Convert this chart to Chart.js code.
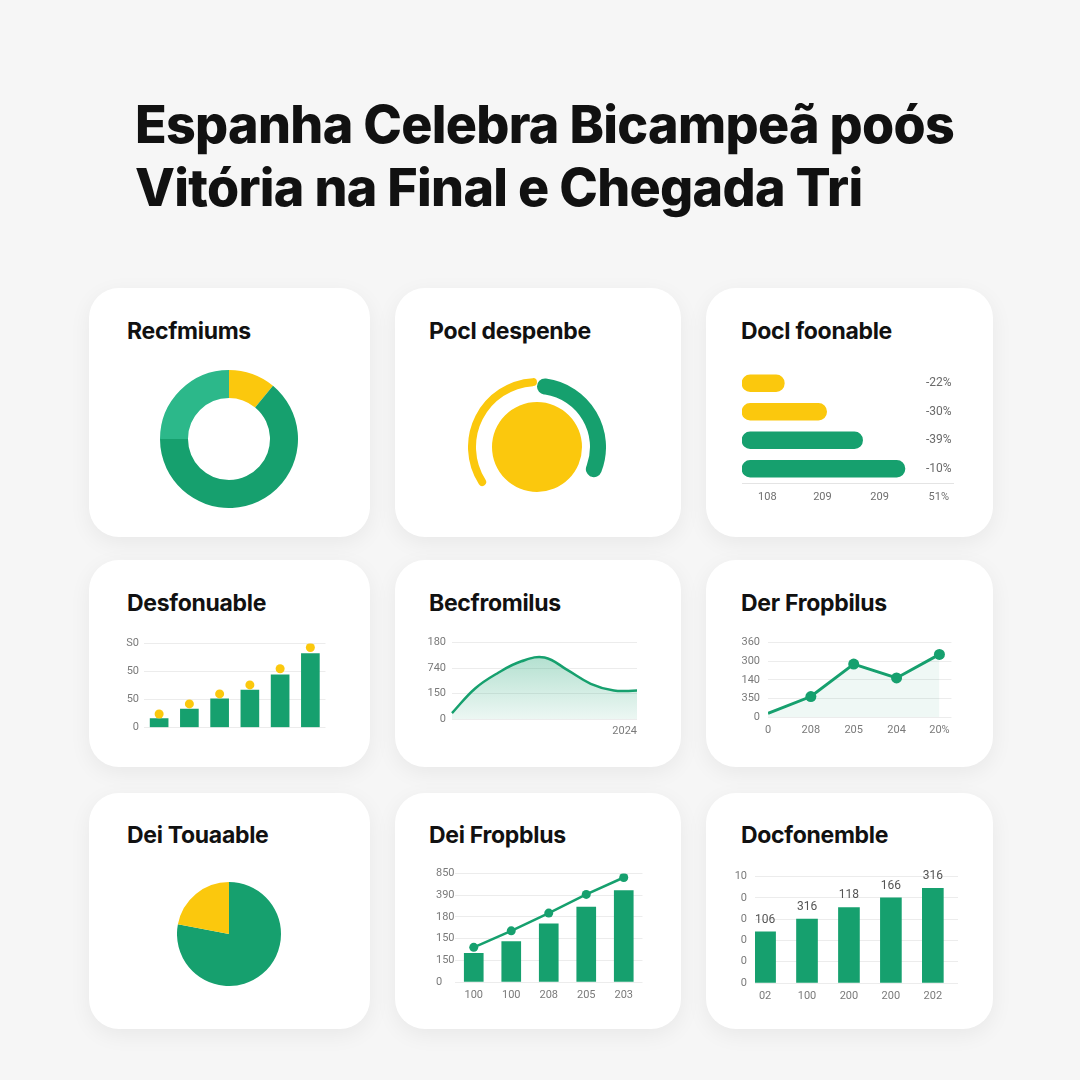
<html>
  <head>
    <meta charset="utf-8" />
    <title>Espanha Celebra Bicampeã</title>
    <style>
      body {
        margin: 0;
        width: 1080px;
        height: 1080px;
        position: relative;
        overflow: hidden;
        background: #f6f6f6;
        font-family: Inter, 'Noto Sans', sans-serif;
      }
      h1 {
        position: absolute;
        left: 135px;
        top: 93px;
        margin: 0;
        font-size: 52px;
        font-weight: 800;
        line-height: 63px;
        letter-spacing: -0.7px;
        color: #111;
        white-space: nowrap;
      }
      .card {
        position: absolute;
        background: #fff;
        border-radius: 30px;
        box-shadow: 0 6px 22px rgba(0, 0, 0, 0.06);
      }
      .card-title {
        position: absolute;
        margin: 0;
        font-size: 23px;
        font-weight: 700;
        line-height: 26px;
        letter-spacing: -0.3px;
        color: #111;
        white-space: nowrap;
      }
      .box {
        position: absolute;
      }
    </style>
  </head>
  <body>
    <h1>Espanha Celebra Bicampeã poós<br />Vitória na Final e Chegada Tri</h1>

    <div class="card" style="left: 89px; top: 288px; width: 281px; height: 249px"></div>
    <div class="card" style="left: 395px; top: 288px; width: 286px; height: 249px"></div>
    <div class="card" style="left: 706px; top: 288px; width: 287px; height: 249px"></div>
    <div class="card" style="left: 89px; top: 560px; width: 281px; height: 207px"></div>
    <div class="card" style="left: 395px; top: 560px; width: 286px; height: 207px"></div>
    <div class="card" style="left: 706px; top: 560px; width: 287px; height: 207px"></div>
    <div class="card" style="left: 89px; top: 793px; width: 281px; height: 236px"></div>
    <div class="card" style="left: 395px; top: 793px; width: 286px; height: 236px"></div>
    <div class="card" style="left: 706px; top: 793px; width: 287px; height: 236px"></div>

    <div class="card-title" style="left: 127px; top: 318px">Recfmiums</div>
    <div class="card-title" style="left: 429px; top: 318px">Pocl despenbe</div>
    <div class="card-title" style="left: 741px; top: 318px">Docl foonable</div>
    <div class="card-title" style="left: 127px; top: 590px">Desfonuable</div>
    <div class="card-title" style="left: 429px; top: 590px">Becfromilus</div>
    <div class="card-title" style="left: 741px; top: 590px">Der Fropbilus</div>
    <div class="card-title" style="left: 127px; top: 822px">Dei Touaable</div>
    <div class="card-title" style="left: 429px; top: 822px">Dei Fropblus</div>
    <div class="card-title" style="left: 741px; top: 822px">Docfonemble</div>

    <div class="box" style="left: 160px; top: 370px; width: 138px; height: 138px"><canvas id="c-donut"></canvas></div>
    <div class="box" style="left: 468px; top: 378px; width: 138px; height: 138px"><canvas id="c-gauge-green"></canvas></div>
    <div class="box" style="left: 468px; top: 378px; width: 138px; height: 138px"><canvas id="c-gauge-yellow"></canvas></div>
    <div class="box" style="left: 742px; top: 369px; width: 215px; height: 144px"><canvas id="c-hbar"></canvas></div>
    <div class="box" style="left: 116px; top: 632px; width: 214px; height: 107px"><canvas id="c-bardots"></canvas></div>
    <div class="box" style="left: 418px; top: 630px; width: 225px; height: 110px"><canvas id="c-area"></canvas></div>
    <div class="box" style="left: 738px; top: 628px; width: 219px; height: 110px"><canvas id="c-line"></canvas></div>
    <div class="box" style="left: 177px; top: 882px; width: 104px; height: 104px"><canvas id="c-pie"></canvas></div>
    <div class="box" style="left: 436px; top: 867px; width: 211px; height: 136px"><canvas id="c-combo"></canvas></div>
    <div class="box" style="left: 731px; top: 862px; width: 227px; height: 142px"><canvas id="c-bars"></canvas></div>

    <script src="https://cdn.jsdelivr.net/npm/chart.js@4"></script>
    <script type="text/javascript">
      // Recfmiums (donut)
      const donutLabels = ['A', 'B', 'C'];
      const donutValues = [11, 64, 25];

      // Pocl despenbe (gauge): green, gap, yellow, clockwise from the top
      const gaugeLabels = ['green', 'gap', 'yellow'];
      const gaugeValues = [33, 32, 35];

      // Docl foonable (horizontal bars)
      const focLabels = ['a', 'b', 'c', 'd'];
      const focValues = [20, 40, 57, 77];
      const focDeltas = ['-22%', '-30%', '-39%', '-10%'];
      const focTickValues = [12, 38, 65, 93];
      const focTickLabels = ['108', '209', '209', '51%'];

      // Desfonuable (bars + dots)
      const desLabels = ['1', '2', '3', '4', '5', '6'];
      const desBars = [16, 33, 51, 67, 94, 132];
      const desDots = [24, 42, 60, 76, 105, 143];
      const desTickLabels = ['0', '50', '50', 'S0'];

      // Becfromilus (area)
      const becLabels = ['', '', '', '', '', '', '', '', '2024'];
      const becValues = [14, 72, 109, 136, 145, 115, 83, 67, 67];
      const becTickLabels = ['0', '150', '740', '180'];

      // Der Fropbilus (line)
      const derLabels = ['0', '208', '205', '204', '20%'];
      const derValues = [18, 99, 256, 189, 303];
      const derTickLabels = ['0', '350', '140', '300', '360'];

      // Dei Touaable (pie)
      const pieLabels = ['green', 'yellow'];
      const pieValues = [78, 22];

      // Dei Fropblus (bars + line)
      const dfbLabels = ['100', '100', '208', '205', '203'];
      const dfbBars = [66, 93, 134, 173, 211];
      const dfbLine = [80, 118, 159, 202, 241];
      const dfbTickLabels = ['0', '150', '150', '180', '390', '850'];

      // Docfonemble (bars with value labels)
      const dcfLabels = ['02', '100', '200', '200', '202'];
      const dcfValues = [4.8, 6.0, 7.1, 8.0, 8.9];
      const dcfValueLabels = ['106', '316', '118', '166', '316'];
      const dcfTickLabels = ['0', '0', '0', '0', '0', '10'];

      const GREEN = '#16a06e';
      const LIGHT_GREEN = '#2cb88a';
      const YELLOW = '#fbc80d';
      const GRID = '#ececec';

      Chart.defaults.font.family = 'Roboto, sans-serif';
      Chart.defaults.font.size = 11;
      Chart.defaults.color = '#7a7a7a';

      const base = {
        responsive: true,
        maintainAspectRatio: false,
        animation: false,
        events: [],
        layout: { padding: 0 },
        plugins: { legend: { display: false }, tooltip: { enabled: false } },
      };
      const fixWidth = (w) => (scale) => {
        scale.width = w;
      };
      const fixHeight = (h) => (scale) => {
        scale.height = h;
      };
      const yAxis = (min, max, step, labels, width, padding) => ({
        min,
        max,
        afterFit: fixWidth(width),
        grid: { color: GRID, drawTicks: false },
        border: { display: false },
        ticks: {
          stepSize: step,
          padding,
          callback: (v) => labels[Math.round((v - min) / step)],
        },
      });
      const xGridless = { display: false, drawTicks: false };

      new Chart(document.getElementById('c-donut'), {
        type: 'doughnut',
        data: {
          labels: donutLabels,
          datasets: [
            {
              data: donutValues,
              backgroundColor: [YELLOW, GREEN, LIGHT_GREEN],
              borderWidth: 0,
              hoverOffset: 0,
            },
          ],
        },
        options: { ...base, cutout: 41 },
      });

      new Chart(document.getElementById('c-gauge-green'), {
        type: 'doughnut',
        data: {
          labels: gaugeLabels,
          datasets: [
            {
              data: gaugeValues,
              backgroundColor: [GREEN, 'transparent', 'transparent'],
              borderWidth: 0,
              hoverOffset: 0,
              borderRadius: 8,
            },
          ],
        },
        options: { ...base, cutout: 53 },
      });

      new Chart(document.getElementById('c-gauge-yellow'), {
        type: 'doughnut',
        data: {
          labels: gaugeLabels,
          datasets: [
            {
              data: gaugeValues,
              backgroundColor: ['transparent', 'transparent', YELLOW],
              borderWidth: 0,
              hoverOffset: 0,
              borderRadius: 4,
              weight: 8,
            },
            { data: [1], backgroundColor: ['transparent'], borderWidth: 0, hoverOffset: 0, weight: 16 },
            { data: [1], backgroundColor: [YELLOW], borderWidth: 0, hoverOffset: 0, weight: 45 },
          ],
        },
        options: { ...base, cutout: 0 },
      });

      const rightLabels = {
        id: 'rightLabels',
        afterDatasetsDraw(chart) {
          const { ctx, chartArea } = chart;
          ctx.save();
          ctx.font = '12px Roboto, sans-serif';
          ctx.fillStyle = '#6a6a6a';
          ctx.textAlign = 'right';
          ctx.textBaseline = 'middle';
          chart.getDatasetMeta(0).data.forEach((bar, i) => {
            ctx.fillText(focDeltas[i], chartArea.right - 2, bar.y);
          });
          ctx.restore();
        },
      };

      new Chart(document.getElementById('c-hbar'), {
        type: 'bar',
        data: {
          labels: focLabels,
          datasets: [
            {
              data: focValues,
              backgroundColor: [YELLOW, YELLOW, GREEN, GREEN],
              barThickness: 17,
              borderRadius: 9,
              borderSkipped: false,
            },
          ],
        },
        options: {
          ...base,
          indexAxis: 'y',
          scales: {
            y: { display: false },
            x: {
              min: 0,
              max: 100,
              afterFit: fixHeight(30),
              afterBuildTicks: (scale) => {
                scale.ticks = focTickValues.map((value) => ({ value }));
              },
              grid: xGridless,
              border: { color: '#e4e4e4' },
              ticks: {
                padding: 8,
                color: '#6f6f6f',
                callback: (v) => focTickLabels[focTickValues.indexOf(v)],
              },
            },
          },
        },
        plugins: [rightLabels],
      });

      new Chart(document.getElementById('c-bardots'), {
        data: {
          labels: desLabels,
          datasets: [
            {
              type: 'line',
              data: desDots,
              showLine: false,
              pointRadius: 4.5,
              pointBackgroundColor: YELLOW,
              pointBorderWidth: 0,
              order: 0,
            },
            {
              type: 'bar',
              data: desBars,
              backgroundColor: GREEN,
              barThickness: 18,
              order: 1,
            },
          ],
        },
        options: {
          ...base,
          scales: {
            x: { display: false },
            y: yAxis(0, 150, 50, desTickLabels, 28, 5),
          },
        },
      });

      new Chart(document.getElementById('c-area'), {
        type: 'line',
        data: {
          labels: becLabels,
          datasets: [
            {
              data: becValues,
              borderColor: GREEN,
              borderWidth: 2.5,
              tension: 0.4,
              pointRadius: 0,
              fill: 'origin',
              backgroundColor: (context) => {
                const { ctx, chartArea } = context.chart;
                if (!chartArea) return 'rgba(22,160,110,0.2)';
                const g = ctx.createLinearGradient(0, chartArea.top, 0, chartArea.bottom);
                g.addColorStop(0, 'rgba(22,160,110,0.38)');
                g.addColorStop(1, 'rgba(22,160,110,0.08)');
                return g;
              },
            },
          ],
        },
        options: {
          ...base,
          scales: {
            x: {
              afterFit: fixHeight(21),
              grid: xGridless,
              border: { display: false },
              ticks: { autoSkip: false, maxRotation: 0, align: 'end', padding: 6 },
            },
            y: yAxis(0, 180, 60, becTickLabels, 34, 6),
          },
        },
      });

      new Chart(document.getElementById('c-line'), {
        type: 'line',
        data: {
          datasets: [
            {
              data: derValues.map((y, x) => ({ x, y })),
              borderColor: GREEN,
              borderWidth: 3,
              pointRadius: derValues.map((v, i) => (i === 0 ? 0 : 5.5)),
              pointBackgroundColor: GREEN,
              pointBorderWidth: 0,
              fill: 'origin',
              backgroundColor: 'rgba(22,160,110,0.07)',
            },
          ],
        },
        options: {
          ...base,
          scales: {
            x: {
              type: 'linear',
              min: 0,
              max: 4.28,
              afterFit: fixHeight(21),
              afterBuildTicks: (scale) => {
                scale.ticks = derLabels.map((l, value) => ({ value }));
              },
              grid: xGridless,
              border: { display: false },
              ticks: { padding: 7, callback: (v) => derLabels[v] },
            },
            y: yAxis(0, 360, 90, derTickLabels, 30, 8),
          },
        },
      });

      new Chart(document.getElementById('c-pie'), {
        type: 'pie',
        data: {
          labels: pieLabels,
          datasets: [
            { data: pieValues, backgroundColor: [GREEN, YELLOW], borderWidth: 0, hoverOffset: 0 },
          ],
        },
        options: base,
      });

      new Chart(document.getElementById('c-combo'), {
        data: {
          labels: dfbLabels,
          datasets: [
            {
              type: 'line',
              data: dfbLine,
              borderColor: GREEN,
              borderWidth: 2.5,
              pointRadius: 4.5,
              pointBackgroundColor: GREEN,
              pointBorderWidth: 0,
              order: 0,
            },
            {
              type: 'bar',
              data: dfbBars,
              backgroundColor: GREEN,
              barThickness: 19,
              order: 1,
            },
          ],
        },
        options: {
          ...base,
          scales: {
            x: {
              afterFit: fixHeight(21),
              grid: xGridless,
              border: { display: false },
              ticks: { padding: 7 },
            },
            y: {
              ...yAxis(0, 250, 50, dfbTickLabels, 19, 0),
              ticks: {
                stepSize: 50,
                padding: 0,
                crossAlign: 'far',
                callback: (v) => dfbTickLabels[Math.round(v / 50)],
              },
            },
          },
        },
      });

      const valueLabels = {
        id: 'valueLabels',
        afterDatasetsDraw(chart) {
          const { ctx } = chart;
          ctx.save();
          ctx.font = '12px Roboto, sans-serif';
          ctx.fillStyle = '#555';
          ctx.textAlign = 'center';
          ctx.textBaseline = 'bottom';
          chart.getDatasetMeta(0).data.forEach((bar, i) => {
            ctx.fillText(dcfValueLabels[i], bar.x, bar.y - 6);
          });
          ctx.restore();
        },
      };

      new Chart(document.getElementById('c-bars'), {
        type: 'bar',
        data: {
          datasets: [
            {
              data: dcfValues.map((y, x) => ({ x, y })),
              backgroundColor: GREEN,
              barThickness: 21,
            },
          ],
        },
        options: {
          ...base,
          scales: {
            x: {
              type: 'linear',
              offset: false,
              min: -0.24,
              max: 4.6,
              afterFit: fixHeight(21),
              afterBuildTicks: (scale) => {
                scale.ticks = dcfLabels.map((l, value) => ({ value }));
              },
              grid: xGridless,
              border: { display: false },
              ticks: { padding: 7, callback: (v) => dcfLabels[v] },
            },
            y: yAxis(0, 10, 2, dcfTickLabels, 24, 8),
          },
        },
        plugins: [valueLabels],
      });
    </script>
  </body>
</html>
